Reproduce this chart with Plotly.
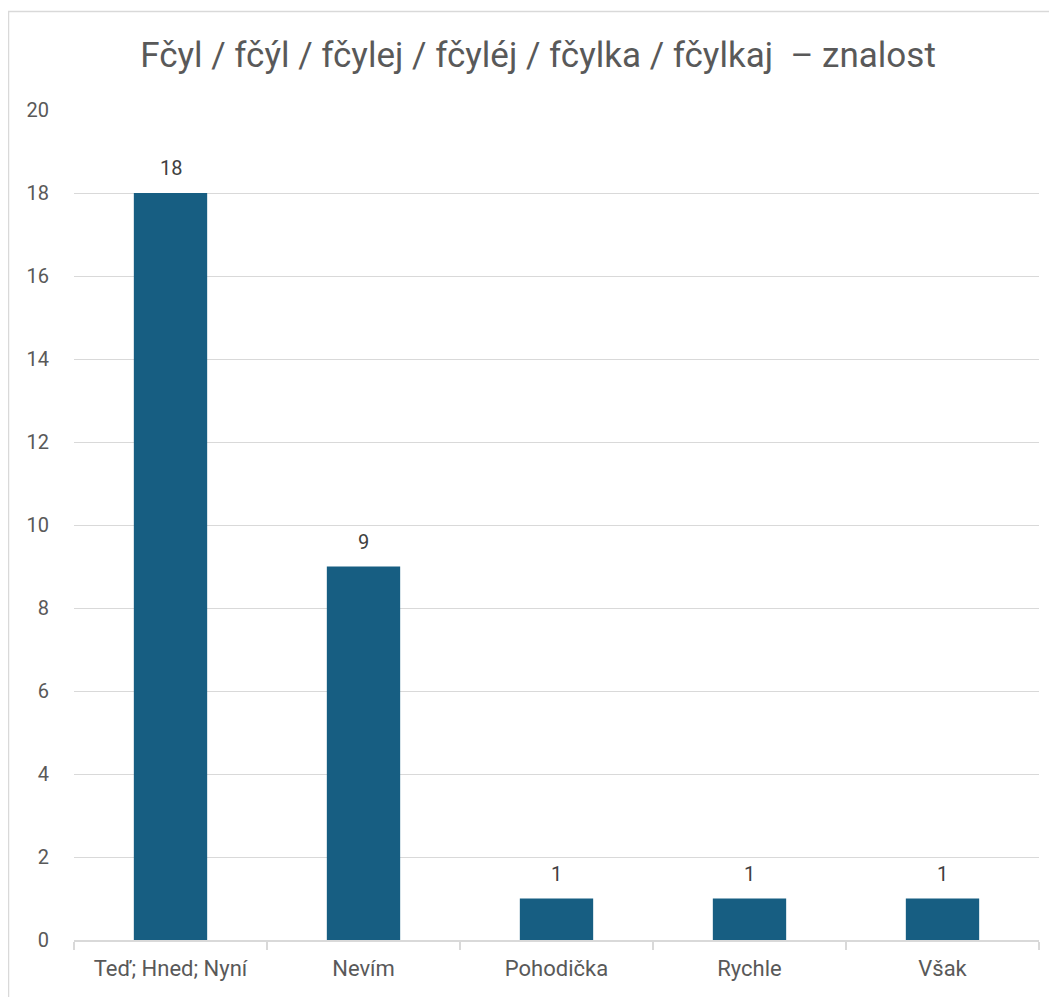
import plotly.graph_objects as go

categories = ["Teď; Hned; Nyní", "Nevím", "Pohodička", "Rychle", "Však"]
values = [18, 9, 1, 1, 1]
y_ticks = [0, 2, 4, 6, 8, 10, 12, 14, 16, 18, 20]

title_text = "Fčyl / fčýl / fčylej / fčyléj / fčylka / fčylkaj  – znalost"

# page body has an 8px margin, so figure coordinates = screen - 8
OFF = 8
W, H = 1057 - OFF, 997 - OFF
L = 74 - OFF
T = 110 - OFF
R = W - (1039 - OFF)
B = H - (940 - OFF)
pw, ph = W - L - R, H - T - B

def px_x(p):
    return (p - OFF - L) / pw

def px_y(p):
    return (H - B - (p - OFF)) / ph

text_color = "#595959"
grid_color = "#D9D9D9"
bar_color = "#175E82"
font_main = "Roboto, Open Sans, sans-serif"

fig = go.Figure()
fig.add_trace(go.Bar(
    x=categories, y=values,
    marker=dict(color=bar_color, line=dict(width=0)),
    width=0.38,
    hoverinfo="x+y",
))

for c, v in zip(categories, values):
    fig.add_annotation(x=c, y=v, text=str(v), showarrow=False,
                       yanchor="bottom", yshift=11,
                       font=dict(size=20, color="#404040", family=font_main))

fig.add_shape(type="rect", xref="paper", yref="paper",
              x0=px_x(8.5), x1=px_x(1070), y0=px_y(1010), y1=px_y(11.5),
              line=dict(color="#D9D9D9", width=1.5), fillcolor="rgba(0,0,0,0)", layer="below")

fig.update_layout(
    width=W, height=H,
    margin=dict(l=L, r=R, t=T, b=B, pad=0),
    paper_bgcolor="white", plot_bgcolor="white",
    showlegend=False,
    title=dict(text=title_text, x=(538 - OFF) / W, xanchor="center",
               y=1 - (55 - OFF) / H, yanchor="middle",
               font=dict(family=font_main, size=35, color=text_color)),
    xaxis=dict(
        showline=True, linecolor=grid_color, linewidth=1.5,
        ticks="outside", tickson="boundaries", ticklen=8, tickcolor=grid_color, tickwidth=1.5,
        ticklabelstandoff=8,
        tickfont=dict(family=font_main, size=22, color=text_color),
        showgrid=False, fixedrange=True,
    ),
    yaxis=dict(
        range=[0, 20], tickvals=y_ticks,
        showgrid=True, gridcolor=grid_color, gridwidth=1,
        zeroline=False, showline=False, ticks="",
        ticklabelstandoff=24,
        tickfont=dict(family=font_main, size=20, color=text_color),
    ),
)

fig.write_html("out.html")
